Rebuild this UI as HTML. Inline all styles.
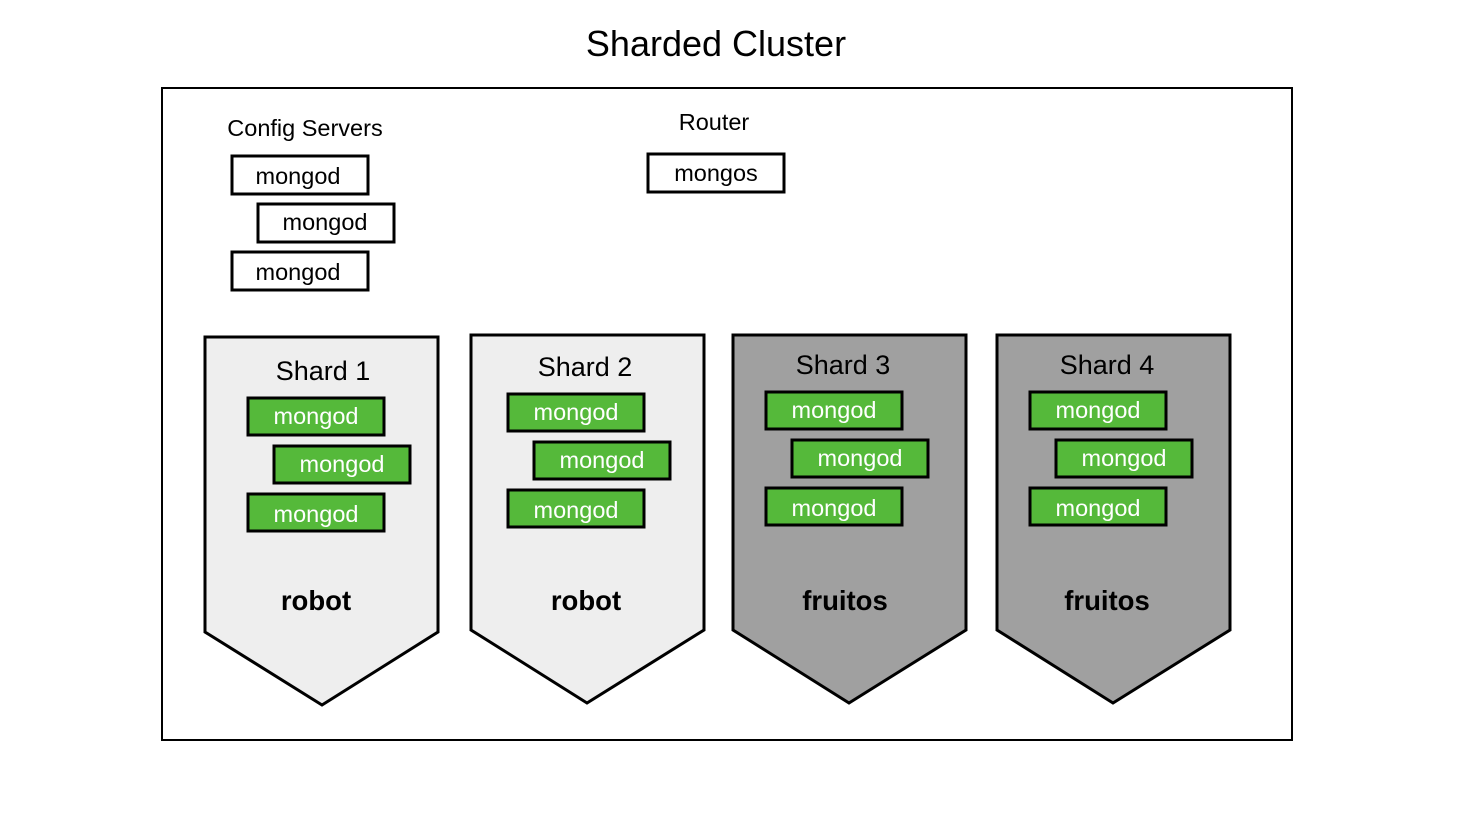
<!DOCTYPE html>
<html><head><meta charset="utf-8"><style>body{margin:0;background:#fff}</style></head><body>
<svg width="1464" height="816" viewBox="0 0 1464 816" xmlns="http://www.w3.org/2000/svg" font-family="Liberation Sans, sans-serif">
<rect width="1464" height="816" fill="#fff"/>
<text x="716" y="56" font-size="36" text-anchor="middle">Sharded Cluster</text>
<rect x="162" y="88" width="1130" height="652" fill="#fff" stroke="#000" stroke-width="2"/>
<text x="305" y="136" font-size="23.5" text-anchor="middle">Config Servers</text>
<text x="714" y="130" font-size="23.5" text-anchor="middle">Router</text>
<g fill="#fff" stroke="#000" stroke-width="3">
<rect x="232" y="156" width="136" height="38"/><rect x="258" y="204" width="136" height="38"/><rect x="232" y="252" width="136" height="38"/><rect x="648" y="154" width="136" height="38"/>
</g>
<g font-size="23.5" text-anchor="middle">
<text x="298" y="184">mongod</text><text x="325" y="230">mongod</text><text x="298" y="280">mongod</text><text x="716" y="181">mongos</text>
</g>
<g stroke="#000" stroke-width="3">
<polygon points="205,337 438,337 438,632 322,705 205,632" fill="#eeeeee"/>
<polygon points="471,335 704,335 704,630 587,703 471,630" fill="#eeeeee"/>
<polygon points="733,335 966,335 966,630 849,703 733,630" fill="#a0a0a0"/>
<polygon points="997,335 1230,335 1230,630 1113,703 997,630" fill="#a0a0a0"/>
</g>
<g font-size="27" text-anchor="middle">
<text x="323" y="380">Shard 1</text><text x="585" y="376">Shard 2</text><text x="843" y="374">Shard 3</text><text x="1107" y="374">Shard 4</text>
</g>
<g font-size="27.5" font-weight="bold" text-anchor="middle">
<text x="316" y="610">robot</text><text x="586" y="610">robot</text><text x="845" y="610">fruitos</text><text x="1107" y="610">fruitos</text>
</g>
<g fill="#55b93a" stroke="#000" stroke-width="3">
<rect x="248" y="398" width="136" height="37"/><rect x="274" y="446" width="136" height="37"/><rect x="248" y="494" width="136" height="37"/>
<rect x="508" y="394" width="136" height="37"/><rect x="534" y="442" width="136" height="37"/><rect x="508" y="490" width="136" height="37"/>
<rect x="766" y="392" width="136" height="37"/><rect x="792" y="440" width="136" height="37"/><rect x="766" y="488" width="136" height="37"/>
<rect x="1030" y="392" width="136" height="37"/><rect x="1056" y="440" width="136" height="37"/><rect x="1030" y="488" width="136" height="37"/>
</g>
<g font-size="23.5" fill="#fff" text-anchor="middle">
<text x="316" y="424">mongod</text><text x="342" y="472">mongod</text><text x="316" y="522">mongod</text>
<text x="576" y="420">mongod</text><text x="602" y="468">mongod</text><text x="576" y="518">mongod</text>
<text x="834" y="418">mongod</text><text x="860" y="466">mongod</text><text x="834" y="516">mongod</text>
<text x="1098" y="418">mongod</text><text x="1124" y="466">mongod</text><text x="1098" y="516">mongod</text>
</g>
</svg>
</body></html>
